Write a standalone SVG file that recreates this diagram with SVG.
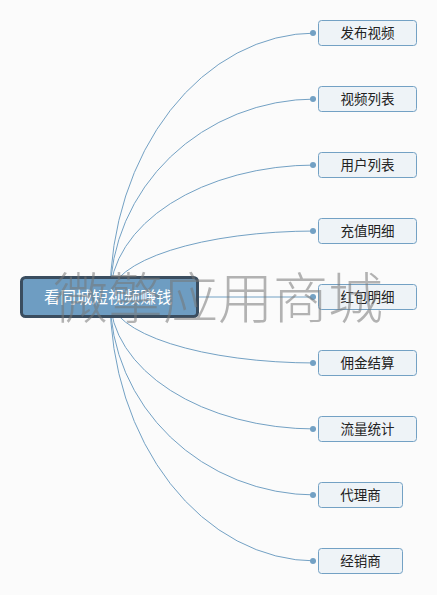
<svg xmlns="http://www.w3.org/2000/svg" width="437" height="595" viewBox="0 0 437 595">
<style>
.conn{fill:none;stroke:#73a1c4;stroke-width:1}
.node rect{fill:#eef3f7;stroke:#73a1c4;stroke-width:1}
.node text{font-family:"Noto Sans CJK SC","Liberation Sans",sans-serif;font-size:13.5px;fill:#222;text-anchor:middle}
.root rect{fill:#6e9dc2;stroke:#3a4d5f;stroke-width:3}
.root text{font-family:"Noto Sans CJK SC","Liberation Sans",sans-serif;font-size:16px;fill:#fff;text-anchor:middle}
.wm{font-family:"Noto Sans CJK SC",sans-serif;font-size:55px;fill:#777;opacity:0.55;font-weight:300}
</style>
<defs>
<marker id="dot" markerUnits="userSpaceOnUse" viewBox="-7 -7 14 14" refX="6" refY="0" markerWidth="7" markerHeight="7" orient="auto">
<circle cx="0" cy="0" r="6" fill="#73a1c4"/>
</marker>
</defs>
<rect width="437" height="595" fill="#fbfbfb"/>
<g id="connectors" class="conn" marker-end="url(#dot)">
<path d="M110 297 A206 264 0 0 1 316 33"/>
<path d="M110 297 A206 198 0 0 1 316 99"/>
<path d="M110 297 A206 132 0 0 1 316 165"/>
<path d="M110 297 A206 66 0 0 1 316 231"/>
<path d="M110 297 L316 297"/>
<path d="M110 297 A206 66 0 0 0 316 363"/>
<path d="M110 297 A206 132 0 0 0 316 429"/>
<path d="M110 297 A206 198 0 0 0 316 495"/>
<path d="M110 297 A206 264 0 0 0 316 561"/>
</g>
<g id="root" class="root">
<rect x="21.5" y="277.5" width="176" height="39" rx="4"/>
<text x="108" y="302.5">看同城短视频赚钱</text>
</g>
<g id="n1" class="node"><rect x="318.5" y="20.5" width="98" height="25" rx="3"/><text x="367.5" y="38">发布视频</text></g>
<g id="n2" class="node"><rect x="318.5" y="86.5" width="98" height="25" rx="3"/><text x="367.5" y="104">视频列表</text></g>
<g id="n3" class="node"><rect x="318.5" y="152.5" width="98" height="25" rx="3"/><text x="367.5" y="170">用户列表</text></g>
<g id="n4" class="node"><rect x="318.5" y="218.5" width="98" height="25" rx="3"/><text x="367.5" y="236">充值明细</text></g>
<g id="n5" class="node"><rect x="318.5" y="284.5" width="98" height="25" rx="3"/><text x="367.5" y="302">红包明细</text></g>
<g id="n6" class="node"><rect x="318.5" y="350.5" width="98" height="25" rx="3"/><text x="367.5" y="368">佣金结算</text></g>
<g id="n7" class="node"><rect x="318.5" y="416.5" width="98" height="25" rx="3"/><text x="367.5" y="434">流量统计</text></g>
<g id="n8" class="node"><rect x="318.5" y="482.5" width="84" height="25" rx="3"/><text x="360.5" y="500">代理商</text></g>
<g id="n9" class="node"><rect x="318.5" y="548.5" width="84" height="25" rx="3"/><text x="360.5" y="566">经销商</text></g>
<text class="wm" x="53" y="318">微擎应用商城</text>
</svg>
